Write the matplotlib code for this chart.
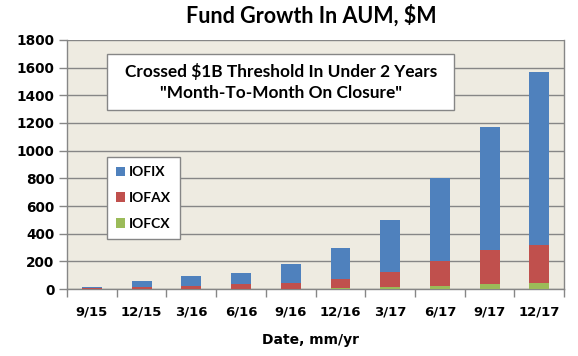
import matplotlib
matplotlib.use("Agg")
import matplotlib.pyplot as plt
from matplotlib.patches import Rectangle
import numpy as np

categories = ["9/15", "12/15", "3/16", "6/16", "9/16", "12/16", "3/17", "6/17", "9/17", "12/17"]
iofcx = [0, 0, 0, 0, 0, 10, 17, 24, 38, 45]
iofax = [8, 14, 24, 38, 43, 62, 108, 178, 245, 272]
iofix = [7, 44, 70, 78, 137, 223, 372, 597, 891, 1253]
yticks = [0, 200, 400, 600, 800, 1000, 1200, 1400, 1600, 1800]

plt.rcParams['font.family'] = ['Lato', 'DejaVu Sans']
plt.rcParams['font.weight'] = 'bold'
TICKFONT = ['DejaVu Sans']

fig = plt.figure(figsize=(5.78, 3.56), dpi=100)
ax = fig.add_axes([0.116, 0.188, 0.860, 0.700])
ax.set_facecolor('#EEEBE1')

x = np.arange(len(categories))
w = 0.4
c_blue, c_red, c_green = '#4F81BD', '#C0504D', '#9BBB59'
b_green = ax.bar(x, iofcx, w, color=c_green, label='IOFCX', zorder=3)
b_red = ax.bar(x, iofax, w, bottom=iofcx, color=c_red, label='IOFAX', zorder=3)
bottom2 = np.array(iofcx) + np.array(iofax)
b_blue = ax.bar(x, iofix, w, bottom=bottom2, color=c_blue, label='IOFIX', zorder=3)

ax.set_xlim(-0.5, len(categories) - 0.5)
ax.set_ylim(0, 1800)
ax.set_yticks(yticks)
ax.set_yticklabels([str(v) for v in yticks], fontsize=9.8, fontweight='bold', family=TICKFONT)
ax.yaxis.grid(True, color='#868686', linewidth=1, zorder=0)
ax.set_axisbelow(True)
ax.tick_params(axis='y', length=6, color='#868686', width=1, pad=3)

ax.set_xticks(x)
ax.set_xticklabels(categories, fontsize=9.5, fontweight='bold', family=TICKFONT)
ax.tick_params(axis='x', length=0, pad=12)
ax.set_xticks(np.arange(-0.5, len(categories), 1), minor=True)
ax.tick_params(axis='x', which='minor', length=6, color='#868686', width=1)

for s in ['left', 'bottom', 'right', 'top']:
    ax.spines[s].set_color('#868686')
    ax.spines[s].set_linewidth(1)
ax.spines['top'].set_visible(False)

fig.text(0.538, 0.955, 'Fund Growth In AUM, $M', ha='center', va='center',
         fontsize=15.5, fontweight='bold')
fig.text(0.538, 0.045, 'Date, mm/yr', ha='center', va='center',
         fontsize=10, fontweight='bold', family=TICKFONT)

box_x0, box_x1 = 0.0805, 0.779
box_y0, box_y1 = 0.719, 0.944
ax.add_patch(Rectangle((box_x0, box_y0), box_x1 - box_x0, box_y1 - box_y0,
                       transform=ax.transAxes, facecolor='white', edgecolor='#868686',
                       linewidth=1, zorder=5))
ax.text((box_x0 + box_x1) / 2, (box_y0 + box_y1) / 2,
        'Crossed $1B Threshold In Under 2 Years\n"Month-To-Month On Closure"',
        transform=ax.transAxes, ha='center', va='center', fontsize=12.4,
        fontweight='bold', linespacing=1.35, zorder=6)

leg = ax.legend(handles=[b_blue, b_red, b_green], labels=['IOFIX', 'IOFAX', 'IOFCX'],
                loc='upper left', bbox_to_anchor=(0.080, 0.530), borderaxespad=0,
                handlelength=0.65, handleheight=0.65, labelspacing=1.0,
                handletextpad=0.3, borderpad=0.65, fancybox=False, framealpha=1,
                edgecolor='#868686', prop={'weight': 'bold', 'size': 10})
leg.get_frame().set_linewidth(1)

fig.savefig('out.png', dpi=100)
